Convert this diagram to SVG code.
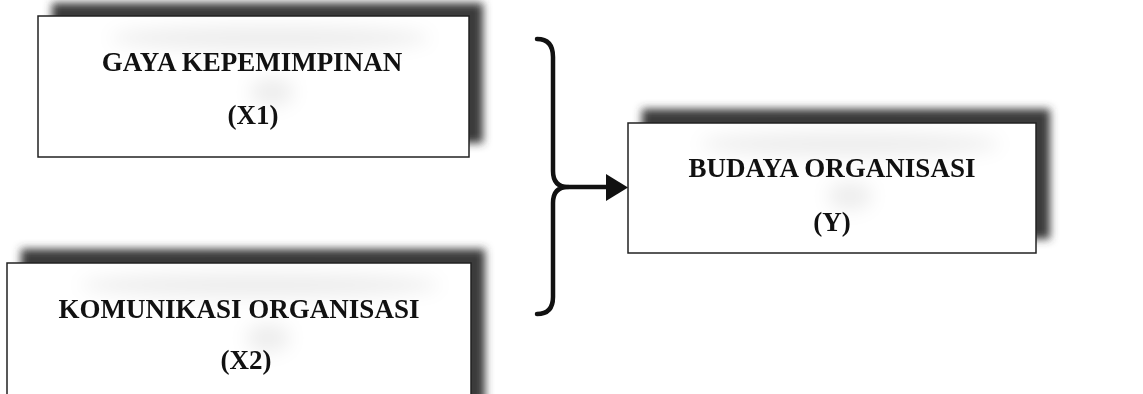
<svg xmlns="http://www.w3.org/2000/svg" width="1143" height="394" viewBox="0 0 1143 394">
<style>
.box{fill:#fff;stroke:#222;stroke-width:1.5}
.sh{fill:#3a3a3a}
.t{font-family:"Liberation Serif","Times New Roman",serif;font-weight:bold;font-size:27px;fill:#111;text-anchor:middle}
.glow{fill:#000;opacity:0.07}
.conn{fill:none;stroke:#111;stroke-width:4.5;stroke-linecap:round;stroke-linejoin:round}
</style>
<defs>
<filter id="blur" x="-10%" y="-30%" width="120%" height="160%"><feGaussianBlur stdDeviation="4"/></filter>
<filter id="tblur" x="-30%" y="-100%" width="160%" height="300%"><feGaussianBlur stdDeviation="9"/></filter>
</defs>
<rect width="1143" height="394" fill="#fff"/>
<g id="node-x1">
<rect class="sh" x="52" y="3" width="431" height="140" filter="url(#blur)"/>
<rect class="box" x="38" y="16" width="431" height="141"/>
<g filter="url(#tblur)"><ellipse class="glow" cx="270" cy="38" rx="160" ry="12"/><ellipse class="glow" cx="272" cy="92" rx="22" ry="14"/></g>
<text class="t" x="252" y="71">GAYA KEPEMIMPINAN</text>
<text class="t" x="253" y="124">(X1)</text>
</g>
<g id="node-x2">
<rect class="sh" x="21" y="249" width="464" height="160" filter="url(#blur)"/>
<rect class="box" x="7" y="263" width="464" height="150"/>
<g filter="url(#tblur)"><ellipse class="glow" cx="260" cy="285" rx="180" ry="12"/><ellipse class="glow" cx="268" cy="338" rx="22" ry="14"/></g>
<text class="t" x="239" y="318">KOMUNIKASI ORGANISASI</text>
<text class="t" x="246" y="369">(X2)</text>
</g>
<g id="node-y">
<rect class="sh" x="642" y="109" width="408" height="130" filter="url(#blur)"/>
<rect class="box" x="628" y="123" width="408" height="130"/>
<g filter="url(#tblur)"><ellipse class="glow" cx="850" cy="144" rx="150" ry="12"/><ellipse class="glow" cx="850" cy="196" rx="22" ry="14"/></g>
<text class="t" x="832" y="177">BUDAYA ORGANISASI</text>
<text class="t" x="832" y="231">(Y)</text>
</g>
<g id="connectors">
<path class="conn" d="M537,39 Q553,39 553,57 L553,171 Q553,187 568,187 Q553,187 553,203 L553,297 Q553,314 537,314"/>
<path class="conn" d="M568,187 L607,187"/>
<polygon points="606,174 628,187.5 606,201" fill="#111"/>
</g>
</svg>
